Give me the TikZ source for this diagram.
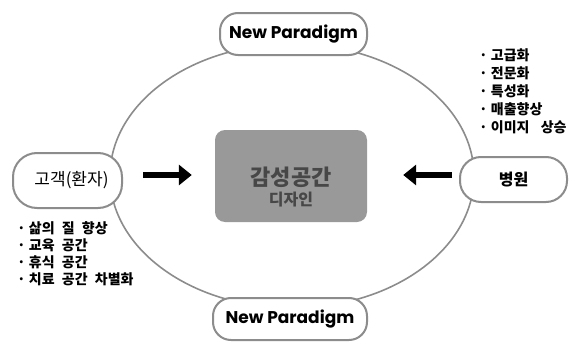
\documentclass[tikz,border=0pt]{standalone}
\usepackage{fontspec}
\newfontfamily\kr{Noto Sans CJK KR}
\newfontfamily\geo{Poppins}
\usetikzlibrary{arrows.meta,calc}
\tikzset{
  ring/.style={draw=black!45, line width=1.6pt},
  pill/.style={draw=black!45, line width=2pt, fill=white, rounded corners=#1, inner sep=0pt},
  pill/.default=14pt,
  fat/.style={line width=5.5pt, -{Triangle[length=13pt,width=20pt]}},
  bullets/.style={anchor=north west, align=left, inner sep=0pt},
}
\begin{document}
\begin{tikzpicture}[x=1pt, y=-1pt]
  \useasboundingbox[fill=white] (0,0) rectangle (574,343);

  % surrounding cycle
  \draw[ring] (292,176) ellipse [x radius=182, y radius=132];

  % centre block
  \node[fill=black!40, rounded corners=10pt, minimum width=152pt,
        minimum height=92pt, inner sep=0pt] (ctr) at (291,176) {};
  \node[align=center, text=black!72, font=\kr\bfseries] (ctrtxt) at ($(ctr)+(0,11)$)
    {\fontsize{22}{24}\selectfont 감성공간\\[4pt]\fontsize{16}{24}\selectfont 디자인};

  % top and bottom labels
  \node[pill=18pt, minimum width=147pt, minimum height=42pt,
        font=\geo\bfseries\fontsize{17}{17}\selectfont] (np1) at (293.5,34) {New Paradigm};
  \node[pill=18pt, minimum width=154pt, minimum height=42pt,
        font=\geo\bfseries\fontsize{17}{17}\selectfont] (np2) at (290,319) {New Paradigm};

  % side nodes
  \node[pill=24pt, minimum width=109pt, minimum height=55pt,
        font=\kr\fontsize{17}{17}\selectfont] (cust) at (67.5,180.5) {\hspace{8pt}고객(환자)};
  \node[pill=21pt, minimum width=107pt, minimum height=45pt,
        font=\kr\bfseries\fontsize{16}{16}\selectfont] (hosp) at (513.5,179.5) {병원\hspace{17pt}};

  % arrows into the centre
  \draw[fat] ($(cust.east |- ctr)+(20,-1)$) -- ($(ctr.west)+(-23,-1)$);
  \draw[fat] ($(hosp.west |- ctr)+(-7,-1)$) -- ($(ctr.east)+(36,-1)$);

  % bullet lists
  \node[bullets, font=\kr\bfseries\fontsize{14}{18.2}\selectfont] (hlist) at (479,48)
    {· 고급화\\· 전문화\\· 특성화\\· 매출향상\\· 이미지\hspace{8pt} 상승};
  \node[bullets, font=\kr\bfseries\fontsize{14}{17}\selectfont] (clist) at (17,221)
    {· 삶의\hspace{4pt} 질\hspace{4pt} 향상\\· 교육\hspace{4pt} 공간\\· 휴식\hspace{4pt} 공간\\· 치료\hspace{4pt} 공간\hspace{4pt} 차별화};
\end{tikzpicture}
\end{document}
